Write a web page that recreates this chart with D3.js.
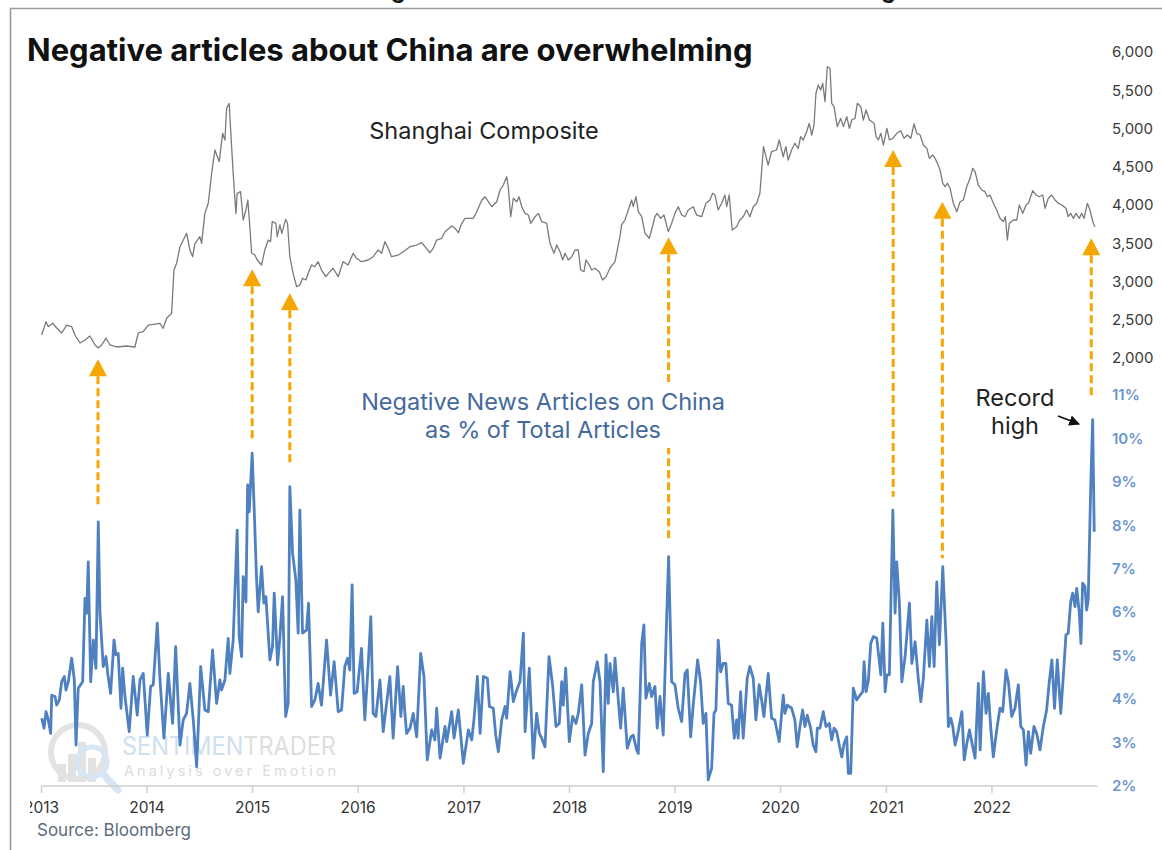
<!DOCTYPE html>
<html>
<head>
<meta charset="utf-8">
<script src="https://cdn.jsdelivr.net/npm/d3@7"></script>
<style>
  html, body { margin: 0; padding: 0; background: #fff; }
  svg { display: block; font-family: Inter, "Noto Sans", sans-serif; }
</style>
</head>
<body>
<svg id="chart" width="1162" height="850"></svg>
<script>
// ---- Shanghai Composite (weekly closes, decimal-year dates) ----
const shT = [2013.002,2013.043,2013.064,2013.106,2013.144,2013.191,2013.239,2013.286,2013.317,2013.365,2013.412,2013.459,2013.507,2013.538,2013.570,2013.611,2013.649,2013.712,2013.807,2013.885,2013.917,2013.964,2014.011,2014.059,2014.122,2014.153,2014.186,2014.233,2014.255,2014.280,2014.312,2014.375,2014.406,2014.432,2014.454,2014.501,2014.517,2014.548,2014.580,2014.612,2014.643,2014.684,2014.716,2014.738,2014.754,2014.778,2014.794,2014.816,2014.842,2014.854,2014.886,2014.911,2014.937,2014.955,2014.974,2014.991,2015.022,2015.044,2015.085,2015.116,2015.148,2015.170,2015.186,2015.221,2015.233,2015.259,2015.277,2015.313,2015.331,2015.353,2015.384,2015.417,2015.448,2015.473,2015.505,2015.527,2015.559,2015.590,2015.621,2015.653,2015.694,2015.732,2015.763,2015.811,2015.858,2015.905,2015.953,2015.985,2016.032,2016.095,2016.142,2016.189,2016.222,2016.253,2016.284,2016.316,2016.379,2016.426,2016.490,2016.553,2016.600,2016.632,2016.679,2016.710,2016.742,2016.790,2016.821,2016.884,2016.916,2016.947,2016.979,2017.010,2017.089,2017.121,2017.169,2017.200,2017.231,2017.263,2017.311,2017.342,2017.373,2017.405,2017.420,2017.443,2017.468,2017.500,2017.522,2017.547,2017.579,2017.610,2017.633,2017.673,2017.705,2017.737,2017.784,2017.815,2017.853,2017.879,2017.910,2017.936,2017.957,2017.989,2018.021,2018.052,2018.083,2018.106,2018.137,2018.156,2018.187,2018.210,2018.241,2018.282,2018.314,2018.346,2018.383,2018.431,2018.453,2018.478,2018.494,2018.525,2018.557,2018.589,2018.604,2018.630,2018.652,2018.684,2018.715,2018.756,2018.778,2018.810,2018.831,2018.864,2018.895,2018.936,2018.968,2018.999,2019.030,2019.063,2019.094,2019.125,2019.172,2019.205,2019.252,2019.293,2019.330,2019.356,2019.378,2019.409,2019.441,2019.473,2019.489,2019.513,2019.542,2019.583,2019.614,2019.646,2019.678,2019.709,2019.741,2019.773,2019.804,2019.838,2019.882,2019.915,2019.962,2019.987,2020.025,2020.050,2020.072,2020.104,2020.135,2020.167,2020.189,2020.214,2020.246,2020.271,2020.294,2020.316,2020.334,2020.356,2020.379,2020.398,2020.420,2020.441,2020.467,2020.483,2020.505,2020.536,2020.568,2020.593,2020.625,2020.650,2020.672,2020.703,2020.725,2020.758,2020.782,2020.808,2020.839,2020.884,2020.902,2020.924,2020.947,2020.972,2021.004,2021.028,2021.061,2021.098,2021.136,2021.167,2021.199,2021.231,2021.262,2021.288,2021.319,2021.350,2021.383,2021.407,2021.439,2021.461,2021.483,2021.508,2021.534,2021.556,2021.578,2021.603,2021.634,2021.667,2021.698,2021.729,2021.761,2021.792,2021.818,2021.840,2021.871,2021.903,2021.934,2021.956,2021.982,2022.013,2022.045,2022.076,2022.108,2022.127,2022.146,2022.165,2022.203,2022.235,2022.259,2022.292,2022.323,2022.345,2022.386,2022.417,2022.449,2022.481,2022.503,2022.534,2022.566,2022.597,2022.629,2022.661,2022.701,2022.723,2022.746,2022.771,2022.797,2022.828,2022.850,2022.872,2022.904,2022.929,2022.960,2022.976];
const shV = [2300,2475,2409,2454,2392,2327,2431,2409,2301,2196,2235,2288,2170,2131,2170,2261,2170,2144,2157,2144,2327,2344,2431,2440,2454,2388,2519,2584,3150,3238,3455,3630,3412,3324,3499,3586,3499,3891,4022,4414,4719,4566,4937,4850,5264,5329,4937,4414,3891,4153,4174,3804,3935,4065,3716,3369,3346,3281,3216,3412,3542,3520,3782,3761,3586,3739,3630,3813,3761,3324,3107,2932,2954,3042,3020,3107,3216,3193,3259,3150,3063,3128,3173,3063,3259,3216,3369,3303,3259,3281,3324,3412,3369,3520,3434,3324,3346,3389,3455,3477,3507,3455,3376,3434,3542,3565,3651,3725,3695,3638,3761,3826,3826,3912,4065,4108,4043,3978,4043,4196,4261,4370,4239,3847,4088,4043,4108,3978,3891,3869,3761,3847,3891,3782,3761,3499,3369,3477,3389,3281,3369,3281,3324,3412,3412,3150,3128,3281,3216,3150,3173,3128,3020,3063,3173,3259,3412,3586,3739,3804,3935,4065,3978,4108,3912,3847,3630,3565,3673,3847,3891,3826,3869,3651,3761,3891,3978,3869,3847,3935,3978,3869,3847,4022,4065,4153,4131,3935,4022,4131,3978,4131,3673,3716,3804,3847,3935,3847,3978,4022,4153,4762,4523,4697,4719,4850,4631,4762,4588,4719,4807,4741,4893,4850,4958,5068,4915,5046,5460,5569,5503,5591,5350,5808,5787,5329,5285,5024,5133,5024,5154,5003,5111,5133,5329,5285,5111,5242,5111,5068,4893,4850,4937,4784,5003,4850,4872,4937,4971,4872,4915,4872,5059,4937,4915,4784,4741,4610,4654,4610,4545,4458,4284,4239,4284,4218,4022,3912,4043,4065,4239,4349,4480,4435,4261,4196,4174,4108,4131,4022,3935,3826,3782,3847,3542,3761,3804,3804,4000,3891,4000,4022,4187,4131,4108,4131,3957,4088,4131,4065,4022,4000,3957,3847,3891,3826,3891,3826,3891,3826,4022,3935,3761,3716];

// ---- Negative news articles on China, % of total (weekly) ----
const negT = [2013.002,2013.024,2013.043,2013.064,2013.087,2013.097,2013.128,2013.144,2013.169,2013.191,2013.216,2013.232,2013.254,2013.286,2013.311,2013.327,2013.348,2013.390,2013.412,2013.428,2013.443,2013.466,2013.491,2013.516,2013.538,2013.554,2013.585,2013.611,2013.627,2013.655,2013.687,2013.705,2013.727,2013.753,2013.769,2013.791,2013.831,2013.869,2013.907,2013.933,2013.964,2014.002,2014.034,2014.059,2014.097,2014.122,2014.160,2014.201,2014.242,2014.271,2014.312,2014.343,2014.375,2014.406,2014.438,2014.470,2014.491,2014.508,2014.548,2014.580,2014.621,2014.659,2014.690,2014.706,2014.738,2014.769,2014.785,2014.816,2014.854,2014.873,2014.896,2014.911,2014.937,2014.953,2014.968,2014.996,2015.015,2015.038,2015.053,2015.085,2015.107,2015.126,2015.164,2015.189,2015.205,2015.237,2015.259,2015.284,2015.313,2015.337,2015.353,2015.379,2015.410,2015.432,2015.448,2015.473,2015.511,2015.530,2015.559,2015.590,2015.621,2015.653,2015.701,2015.739,2015.773,2015.811,2015.843,2015.874,2015.900,2015.921,2015.943,2015.962,2015.991,2016.032,2016.063,2016.095,2016.120,2016.142,2016.168,2016.206,2016.237,2016.269,2016.300,2016.331,2016.373,2016.404,2016.426,2016.442,2016.458,2016.490,2016.521,2016.553,2016.591,2016.622,2016.653,2016.695,2016.726,2016.742,2016.774,2016.821,2016.837,2016.884,2016.906,2016.947,2016.994,2017.042,2017.074,2017.096,2017.127,2017.153,2017.184,2017.222,2017.241,2017.278,2017.301,2017.326,2017.358,2017.389,2017.405,2017.437,2017.468,2017.500,2017.531,2017.563,2017.579,2017.619,2017.657,2017.689,2017.714,2017.737,2017.768,2017.806,2017.841,2017.872,2017.903,2017.926,2017.941,2017.964,2017.998,2018.030,2018.061,2018.083,2018.116,2018.147,2018.178,2018.210,2018.225,2018.263,2018.289,2018.320,2018.346,2018.367,2018.383,2018.415,2018.431,2018.462,2018.485,2018.509,2018.547,2018.582,2018.604,2018.636,2018.652,2018.684,2018.705,2018.724,2018.756,2018.778,2018.810,2018.831,2018.857,2018.888,2018.920,2018.939,2018.968,2018.999,2019.030,2019.063,2019.094,2019.116,2019.148,2019.172,2019.214,2019.242,2019.267,2019.293,2019.314,2019.347,2019.369,2019.387,2019.409,2019.432,2019.456,2019.482,2019.504,2019.536,2019.561,2019.583,2019.598,2019.621,2019.646,2019.684,2019.709,2019.741,2019.766,2019.797,2019.820,2019.842,2019.883,2019.915,2019.946,2019.987,2020.025,2020.041,2020.063,2020.104,2020.135,2020.157,2020.183,2020.208,2020.230,2020.252,2020.284,2020.309,2020.334,2020.347,2020.372,2020.403,2020.429,2020.460,2020.483,2020.505,2020.530,2020.555,2020.578,2020.600,2020.625,2020.640,2020.663,2020.687,2020.719,2020.750,2020.777,2020.789,2020.808,2020.830,2020.852,2020.877,2020.909,2020.928,2020.947,2020.966,2020.988,2021.004,2021.028,2021.061,2021.082,2021.098,2021.123,2021.146,2021.177,2021.218,2021.241,2021.272,2021.303,2021.326,2021.350,2021.383,2021.407,2021.430,2021.452,2021.477,2021.502,2021.534,2021.566,2021.587,2021.610,2021.629,2021.651,2021.683,2021.715,2021.737,2021.762,2021.787,2021.818,2021.840,2021.871,2021.888,2021.919,2021.944,2021.966,2021.989,2022.013,2022.045,2022.076,2022.102,2022.133,2022.155,2022.187,2022.218,2022.250,2022.273,2022.298,2022.323,2022.345,2022.367,2022.398,2022.424,2022.455,2022.487,2022.518,2022.543,2022.568,2022.593,2022.619,2022.652,2022.676,2022.701,2022.723,2022.746,2022.765,2022.787,2022.803,2022.828,2022.843,2022.859,2022.881,2022.897,2022.912,2022.935,2022.954,2022.969];
const negV = [3.56,3.33,3.71,3.52,3.21,4.09,4.06,3.86,3.98,4.40,4.52,4.21,4.40,4.94,4.44,2.94,4.25,4.40,6.32,5.98,7.16,4.40,5.36,4.71,8.08,5.98,4.75,4.98,4.59,4.13,5.36,5.02,5.05,3.79,4.71,4.06,3.25,4.52,3.63,4.44,4.59,3.17,4.29,4.33,5.75,4.48,3.10,4.59,3.44,5.21,2.94,3.52,3.67,4.36,3.52,2.44,3.67,4.75,3.75,3.71,5.13,3.90,4.44,4.21,4.44,5.40,4.59,5.36,7.89,5.44,4.98,6.82,6.24,8.93,8.31,9.66,8.39,6.74,6.01,7.05,6.21,6.36,4.90,5.21,6.44,4.79,5.44,6.36,3.60,3.90,8.89,7.36,6.74,5.52,8.35,5.52,5.59,6.21,3.83,3.98,4.36,3.86,5.36,4.09,4.86,3.71,3.75,4.75,4.94,4.67,6.63,4.13,4.17,5.17,3.52,4.79,5.90,3.67,3.60,4.44,3.25,3.90,4.52,3.10,4.75,3.60,4.29,3.67,3.21,3.33,3.67,3.13,5.05,4.52,2.60,3.29,3.06,3.79,2.64,3.37,3.02,3.71,3.10,3.75,2.52,3.29,3.06,3.56,4.52,3.21,4.52,4.48,3.83,3.79,3.17,2.79,3.52,3.83,3.56,4.63,3.94,4.21,4.40,5.52,3.25,4.71,2.64,3.67,3.21,3.10,2.90,4.98,4.29,3.37,3.44,4.40,3.86,4.71,3.02,3.60,3.44,3.67,4.33,2.71,3.21,3.44,4.40,4.86,4.40,2.33,5.02,3.90,4.82,4.17,4.94,3.98,3.33,4.25,2.87,3.13,3.17,2.83,2.75,5.28,5.71,4.02,4.36,4.06,4.29,3.33,4.06,3.17,5.82,7.28,4.40,4.33,3.79,3.48,4.59,4.67,3.13,3.86,4.90,4.40,3.44,3.67,2.14,2.41,3.67,3.75,5.36,4.63,4.82,4.82,3.90,3.86,3.10,3.52,3.10,4.17,3.10,4.48,4.75,4.48,3.52,4.33,3.98,3.60,4.59,3.56,3.52,3.02,4.09,3.67,3.86,3.79,3.52,2.90,3.37,3.75,3.37,3.63,3.33,2.94,2.79,3.33,3.33,3.71,3.37,3.44,3.06,3.33,3.25,2.94,2.67,2.98,3.13,2.29,2.29,4.25,3.98,4.09,4.17,4.86,4.17,4.44,5.28,5.44,5.40,4.98,4.56,5.75,4.17,4.56,4.56,8.35,5.98,7.16,6.21,4.40,4.98,6.21,4.82,5.32,4.44,3.94,4.48,5.82,4.75,5.90,4.75,6.70,5.25,7.05,5.28,3.37,3.56,3.37,2.94,3.29,3.71,2.60,2.98,3.29,2.90,2.64,4.36,2.83,4.63,3.67,4.13,3.33,2.67,3.29,3.79,3.71,4.67,4.40,3.60,3.79,4.33,3.37,3.29,2.48,3.25,2.75,3.37,3.21,2.83,3.37,3.75,4.40,4.90,3.79,4.90,3.67,4.52,5.48,5.52,6.24,6.44,6.13,6.55,5.98,5.28,6.67,6.59,6.05,6.28,8.81,10.43,7.85];

// ---- Axis ticks ----
const indexTicks = [2000, 2500, 3000, 3500, 4000, 4500, 5000, 5500, 6000];
const pctTicks = [2, 3, 4, 5, 6, 7, 8, 9, 10, 11];
const yearTicks = [2013, 2014, 2015, 2016, 2017, 2018, 2019, 2020, 2021, 2022];

// ---- Highlighted episodes: date, index level at arrow tip, % level at tail ----
const flagT = [2013.535, 2014.996, 2015.353, 2018.939, 2021.064, 2021.530, 2022.941];
const flagTipIndex = [1983, 3159, 2846, 3578, 4719, 4043, 3565];
const flagTailPct = [8.47, 9.99, 9.39, 7.62, 8.66, 7.24, 10.92];

const title = "Negative articles about China are overwhelming";

// decimal year -> UTC date
function toDate(t) {
  const y = Math.floor(t);
  const a = Date.UTC(y, 0, 1), b = Date.UTC(y + 1, 0, 1);
  return new Date(a + (t - y) * (b - a));
}

const svg = d3.select("#chart");

const x = d3.scaleUtc()
  .domain([new Date(Date.UTC(2013, 0, 1)), new Date(Date.UTC(2023, 0, 1))])
  .range([41.5, 1097.5]);
const yIdx = d3.scaleLinear().domain([2000, 6000]).range([358, 52]);
const yPct = d3.scaleLinear().domain([2, 11]).range([786, 395]);

// frame
svg.append("path")
  .attr("d", "M10.5,850 V8.5 H1162")
  .attr("fill", "none").attr("stroke", "#9a9a9a").attr("stroke-width", 1.6);

// clipped heading from the panel above
svg.append("text")
  .attr("x", 360).attr("y", -2)
  .attr("font-size", 22.9).attr("font-weight", 700).attr("fill", "#111")
  .text(title);

// title
svg.append("text")
  .attr("x", 27).attr("y", 61)
  .attr("font-size", 31).attr("font-weight", 700).attr("fill", "#111")
  .text(title);

// watermark
const wm = svg.append("g");
wm.append("circle").attr("cx", 78).attr("cy", 752).attr("r", 27)
  .attr("fill", "none").attr("stroke", "#e3e3e3").attr("stroke-width", 6);
[[62, 18], [72, 28], [82, 40], [92, 24]].forEach(([bx, bh]) => {
  wm.append("rect").attr("x", bx - 4).attr("y", 782 - bh).attr("width", 8).attr("height", bh)
    .attr("fill", "#e2e2e2");
});
wm.append("circle").attr("cx", 92).attr("cy", 762).attr("r", 15)
  .attr("fill", "none").attr("stroke", "#d6e6f4").attr("stroke-width", 5);
wm.append("line").attr("x1", 103).attr("y1", 774).attr("x2", 118).attr("y2", 790)
  .attr("stroke", "#d6e6f4").attr("stroke-width", 7).attr("stroke-linecap", "round");
const wmt = wm.append("text").attr("x", 122).attr("y", 755)
  .attr("font-size", 25).attr("textLength", 214).attr("lengthAdjust", "spacingAndGlyphs");
wmt.append("tspan").attr("fill", "#cfe0ef").text("SENTIMEN");
wmt.append("tspan").attr("fill", "#dedede").text("TRADER");
wm.append("text").attr("x", 124).attr("y", 776)
  .attr("font-size", 14.5).attr("fill", "#dcdcdc")
  .attr("textLength", 212).attr("lengthAdjust", "spacing")
  .text("Analysis over Emotion");

// x axis
const xAxis = svg.append("g").attr("transform", "translate(0,786)");
xAxis.append("line").attr("x1", 41.5).attr("x2", 1097.5).attr("y1", 0).attr("y2", 0)
  .attr("stroke", "#cfcfcf").attr("stroke-width", 1.5);
svg.append("clipPath").attr("id", "xclip").append("rect")
  .attr("x", 30).attr("y", 790).attr("width", 1100).attr("height", 40);
const yt = xAxis.selectAll("g.tick").data(yearTicks).join("g")
  .attr("class", "tick")
  .attr("transform", d => `translate(${x(new Date(Date.UTC(d, 0, 1)))},0)`);
yt.append("line").attr("y1", 0).attr("y2", 7).attr("stroke", "#cfcfcf").attr("stroke-width", 1.5);
svg.append("g").attr("clip-path", "url(#xclip)")
  .selectAll("text").data(yearTicks).join("text")
  .attr("x", d => x(new Date(Date.UTC(d, 0, 1))))
  .attr("y", 813).attr("text-anchor", "middle")
  .attr("font-size", 15.5).attr("fill", "#333")
  .text(d3.format("d"));

// right axes
const fmtIdx = d3.format(",");
svg.append("g").selectAll("text").data(indexTicks).join("text")
  .attr("x", 1112).attr("y", d => yIdx(d)).attr("dy", "0.35em")
  .attr("font-size", 15).attr("fill", "#3a3a3a")
  .text(d => fmtIdx(d));
svg.append("g").selectAll("text").data(pctTicks).join("text")
  .attr("x", 1112).attr("y", d => yPct(d)).attr("dy", "0.35em")
  .attr("font-size", 15).attr("font-weight", 600).attr("fill", "#6b96cf")
  .text(d => d + "%");

// lines
const shData = shT.map((t, i) => ({ d: toDate(t), v: shV[i] }));
const negData = negT.map((t, i) => ({ d: toDate(t), v: negV[i] }));

svg.append("path").datum(shData)
  .attr("fill", "none").attr("stroke", "#7a7a7a").attr("stroke-width", 1.3)
  .attr("stroke-linejoin", "round")
  .attr("d", d3.line().x(p => x(p.d)).y(p => yIdx(p.v)));

svg.append("path").datum(negData)
  .attr("fill", "none").attr("stroke", "#4f80c0").attr("stroke-width", 2.8)
  .attr("stroke-linejoin", "round")
  .attr("d", d3.line().x(p => x(p.d)).y(p => yPct(p.v)));

// highlighted episodes: dashed orange arrows
const orange = "#f5a600";
const flags = svg.append("g");
flagT.forEach((t, i) => {
  const fx = x(toDate(t));
  const tip = yIdx(flagTipIndex[i]);
  const base = tip + 17;
  flags.append("line")
    .attr("x1", fx).attr("x2", fx).attr("y1", base).attr("y2", yPct(flagTailPct[i]))
    .attr("stroke", orange).attr("stroke-width", 3).attr("stroke-dasharray", "8,4");
  flags.append("path")
    .attr("d", `M${fx},${tip} L${fx + 9},${base} L${fx - 9},${base} Z`)
    .attr("fill", orange);
});

// labels
svg.append("text").attr("x", 484).attr("y", 139).attr("text-anchor", "middle")
  .attr("font-size", 23.5).attr("fill", "#222").text("Shanghai Composite");

svg.append("rect").attr("x", 350).attr("y", 382).attr("width", 386).attr("height", 66)
  .attr("fill", "#fff");
const neg = svg.append("text").attr("text-anchor", "middle")
  .attr("font-size", 23.5).attr("fill", "#44699d");
neg.append("tspan").attr("x", 543).attr("y", 410).text("Negative News Articles on China");
neg.append("tspan").attr("x", 543).attr("y", 438).text("as % of Total Articles");

const rec = svg.append("text").attr("text-anchor", "middle")
  .attr("font-size", 23.5).attr("fill", "#222");
rec.append("tspan").attr("x", 1015).attr("y", 406).text("Record");
rec.append("tspan").attr("x", 1015).attr("y", 434).text("high");

svg.append("defs").append("marker")
  .attr("id", "ah").attr("viewBox", "0 0 10 10").attr("refX", 9).attr("refY", 5)
  .attr("markerWidth", 6).attr("markerHeight", 6).attr("orient", "auto")
  .append("path").attr("d", "M0,0 L10,5 L0,10 Z").attr("fill", "#111");
svg.append("line").attr("x1", 1058).attr("y1", 416).attr("x2", 1079).attr("y2", 424)
  .attr("stroke", "#111").attr("stroke-width", 1.8).attr("marker-end", "url(#ah)");

// source
svg.append("text").attr("x", 37).attr("y", 836)
  .attr("font-size", 17).attr("fill", "#5d6b7a").text("Source: Bloomberg");
</script>
</body>
</html>
